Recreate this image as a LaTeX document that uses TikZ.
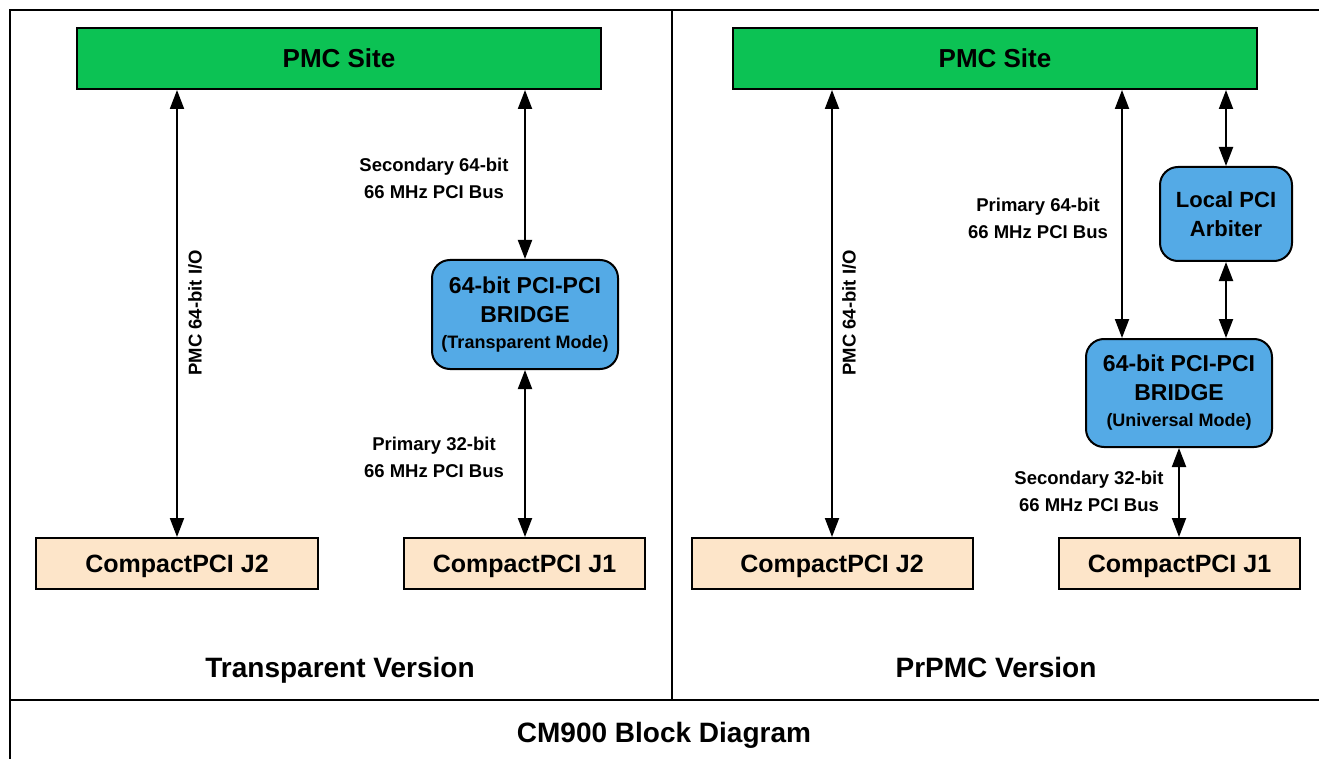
\documentclass[tikz,border=0pt]{standalone}
\usepackage{fontspec}
\setmainfont{Liberation Sans}
\usetikzlibrary{arrows.meta}
\definecolor{pmcgreen}{RGB}{12,194,84}
\definecolor{bridgeblue}{RGB}{84,170,230}
\definecolor{peach}{RGB}{253,229,201}
\begin{document}
\begin{tikzpicture}[x=1pt,y=-1pt,
  bus/.style={line width=2pt, {Triangle[length=19pt,width=14pt]}-{Triangle[length=19pt,width=14pt]}},
  site/.style={draw, line width=2pt, fill=pmcgreen, minimum width=524pt, minimum height=61pt, inner sep=0pt, text height=18.6pt, text depth=0pt, font=\bfseries\fontsize{26}{30}\selectfont},
  conn/.style={draw, line width=2pt, fill=peach, minimum height=51pt, inner sep=0pt, text height=17.9pt, text depth=0pt, font=\bfseries\fontsize{25}{30}\selectfont},
  chip/.style={draw, line width=2pt, fill=bridgeblue, rounded corners=18pt, inner sep=0pt, align=center},
  buslabel/.style={font=\bfseries\fontsize{18.5}{27}\selectfont, align=center, inner sep=0pt},
  title/.style={font=\bfseries\fontsize{28}{32}\selectfont, inner sep=0pt, anchor=base},
  frame/.style={line width=2pt}
]
\useasboundingbox (0,0) rectangle (1319,759);
% frame
\draw[frame] (1319,10) -- (10,10) -- (10,759);
\draw[frame] (10,700) -- (1319,700);
\draw[line width=1.5pt] (672,10) -- (672,700);
% left: transparent version
\node[site] (pmcL) at (339,58.5) {PMC Site};
\node[conn, minimum width=282pt] (j2L) at (177,563.5) {CompactPCI J2};
\node[conn, minimum width=241pt] (j1L) at (524.5,563.5) {CompactPCI J1};
\node[chip, minimum width=186pt, minimum height=109pt, font=\bfseries\fontsize{23}{29}\selectfont] (brL) at (525,314.5)
  {64-bit PCI-PCI\\BRIDGE\\[-3pt]{\fontsize{18}{22}\selectfont(Transparent Mode)}};
\draw[bus] (j2L.north) -- (j2L.north |- pmcL.south);
\draw[bus] (brL.north) -- (brL.north |- pmcL.south);
\draw[bus] (brL.south) -- (brL.south |- j1L.north);
\node[buslabel] (lSec64) at (434,178) {Secondary 64-bit\\66 MHz PCI Bus};
\node[buslabel] (lPri32) at (434,457) {Primary 32-bit\\66 MHz PCI Bus};
\node[buslabel, rotate=90] (lIOL) at (195,313) {PMC 64-bit I/O};
\node[title] (tL) at (340,677) {Transparent Version};
% right: PrPMC version
\node[site] (pmcR) at (995,58.5) {PMC Site};
\node[conn, minimum width=281pt] (j2R) at (832,563.5) {CompactPCI J2};
\node[conn, minimum width=241pt] (j1R) at (1179.5,563.5) {CompactPCI J1};
\node[chip, minimum width=186pt, minimum height=108pt, font=\bfseries\fontsize{23}{29}\selectfont] (brR) at (1179,393)
  {64-bit PCI-PCI\\BRIDGE\\[-3pt]{\fontsize{18}{22}\selectfont(Universal Mode)}};
\node[chip, minimum width=132pt, minimum height=94pt, font=\bfseries\fontsize{22}{29}\selectfont] (arb) at (1226,214)
  {Local PCI\\Arbiter};
\draw[bus] (j2R.north) -- (j2R.north |- pmcR.south);
\draw[bus] ([xshift=-57pt]brR.north) -- ([xshift=-57pt]brR.north |- pmcR.south);
\draw[bus] (arb.north) -- (arb.north |- pmcR.south);
\draw[bus] (arb.south) -- (arb.south |- brR.north);
\draw[bus] (brR.south) -- (brR.south |- j1R.north);
\node[buslabel] (lPri64) at (1038,218.5) {Primary 64-bit\\66 MHz PCI Bus};
\node[buslabel] (lSec32) at (1089,491.5) {Secondary 32-bit\\66 MHz PCI Bus};
\node[buslabel, rotate=90] (lIOR) at (849,313) {PMC 64-bit I/O};
\node[title] (tR) at (996,677) {PrPMC Version};
% caption
\node[title] (tB) at (664,742) {CM900 Block Diagram};
\end{tikzpicture}
\end{document}
